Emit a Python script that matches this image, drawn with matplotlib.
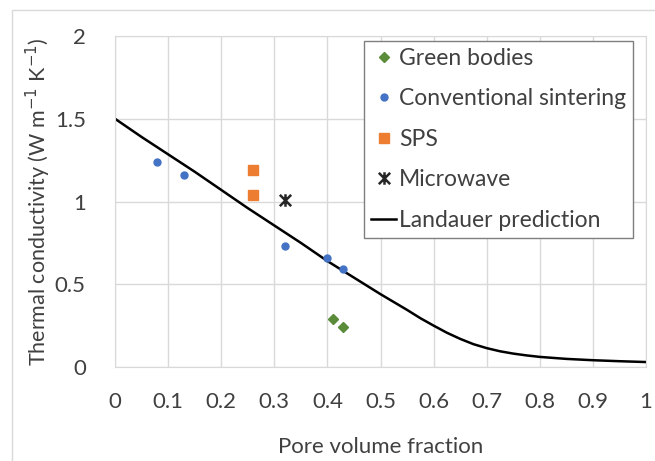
# Thermal conductivity vs pore volume fraction, with Landauer prediction.
import numpy as np
import matplotlib
matplotlib.use("Agg")
import matplotlib.pyplot as plt
from matplotlib.path import Path
from matplotlib.patches import Rectangle
from matplotlib.ticker import FuncFormatter

plt.rcParams['font.family'] = ['Lato', 'DejaVu Sans']

# data
green_x = [0.41, 0.43]
green_y = [0.29, 0.24]
conv_x = [0.08, 0.13, 0.32, 0.40, 0.43]
conv_y = [1.24, 1.16, 0.73, 0.66, 0.59]
sps_x = [0.26, 0.26]
sps_y = [1.19, 1.04]
micro_x = [0.32]
micro_y = [1.01]
landauer_x = [0.0, 0.05, 0.1, 0.15, 0.2, 0.25, 0.3, 0.35, 0.4, 0.45, 0.5,
              0.55, 0.575, 0.6, 0.625, 0.65, 0.675, 0.7, 0.725, 0.75, 0.775,
              0.8, 0.85, 0.9, 0.95, 1.0]
landauer_y = [1.50, 1.39, 1.285, 1.18, 1.07, 0.96, 0.855, 0.75, 0.64, 0.54, 0.44,
              0.345, 0.295, 0.25, 0.207, 0.17, 0.138, 0.114, 0.095, 0.081, 0.07,
              0.061, 0.049, 0.041, 0.035, 0.03]
x_ticks = [0, 0.1, 0.2, 0.3, 0.4, 0.5, 0.6, 0.7, 0.8, 0.9, 1]
y_ticks = [0, 0.5, 1, 1.5, 2]

GRID = '#d9d9d9'
TXT = '#404040'

# Excel-like "star" marker: an x with a vertical bar
star = Path([(-0.5, -0.5), (0.5, 0.5), (-0.5, 0.5), (0.5, -0.5), (0, -0.55), (0, 0.55)],
            [Path.MOVETO, Path.LINETO, Path.MOVETO, Path.LINETO, Path.MOVETO, Path.LINETO])

fig = plt.figure(figsize=(6.55, 4.61), dpi=100)
ax = fig.add_axes([0.1756, 0.2039, 0.8107, 0.718])

fig.patches.append(Rectangle((12 / 655, -0.1), 1.2, 1 - 10 / 461 + 0.1,
                             transform=fig.transFigure, fill=False,
                             edgecolor=GRID, linewidth=1.0))

ax.plot(green_x, green_y, linestyle='none', marker='D', markersize=5,
        color='#5b8c3a', label='Green bodies', zorder=3)
ax.plot(conv_x, conv_y, linestyle='none', marker='o', markersize=5,
        color='#4472c4', label='Conventional sintering', zorder=3)
ax.plot(sps_x, sps_y, linestyle='none', marker='s', markersize=7,
        color='#ed7d31', label='SPS', zorder=3)
ax.plot(micro_x, micro_y, linestyle='none', marker=star, markersize=9,
        markeredgewidth=1.8, color='#262626', label='Microwave', zorder=3)
ax.plot(landauer_x, landauer_y, color='black', linewidth=1.8,
        label='Landauer prediction', zorder=2)

ax.set_xlim(0, 1)
ax.set_ylim(0, 2)
ax.set_xticks(x_ticks)
ax.set_yticks(y_ticks)
fmt = FuncFormatter(lambda v, p: '%g' % v)
ax.xaxis.set_major_formatter(fmt)
ax.yaxis.set_major_formatter(fmt)
ax.tick_params(length=0, labelsize=16, labelcolor=TXT)
ax.tick_params(axis='x', pad=18)
ax.tick_params(axis='y', pad=21)
ax.grid(True, color=GRID, linewidth=1.0)
ax.set_axisbelow(True)
for s in ax.spines.values():
    s.set_color(GRID)

ax.set_xlabel('Pore volume fraction', fontsize=16, color=TXT, labelpad=18)
ax.set_ylabel('Thermal conductivity (W m$^{-1}$ K$^{-1}$)', fontsize=15.5,
              color=TXT, labelpad=1)

leg = ax.legend(loc='upper right', bbox_to_anchor=(0.975, 0.985), fontsize=16.5,
                fancybox=False, edgecolor='#7f7f7f', framealpha=1,
                handlelength=1.1, handletextpad=0.1, labelspacing=0.85,
                borderpad=0.3, borderaxespad=0, numpoints=1)
leg.get_frame().set_linewidth(1.0)
for t in leg.get_texts():
    t.set_color(TXT)

fig.savefig('out.png', dpi=100)
